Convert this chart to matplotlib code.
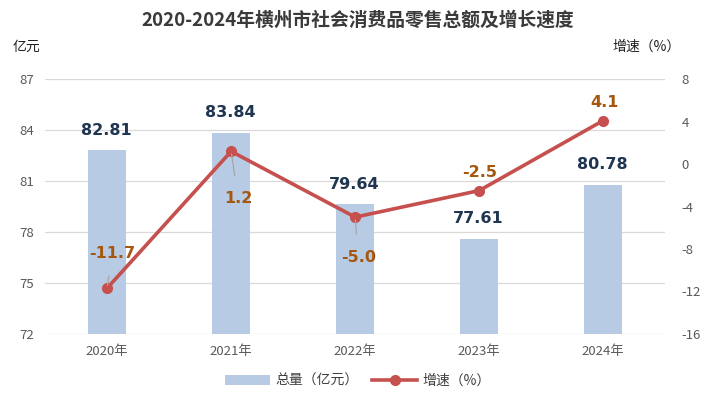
import numpy as np
import matplotlib.pyplot as plt

plt.rcParams['font.family'] = ['Noto Sans CJK SC', 'DejaVu Sans']
plt.rcParams['axes.unicode_minus'] = False

years = ['2020年', '2021年', '2022年', '2023年', '2024年']
total = [82.81, 83.84, 79.64, 77.61, 80.78]
growth = [-11.7, 1.2, -5.0, -2.5, 4.1]

# label offsets in pixels (dx, dy) for the growth labels, and whether a leader line is drawn
g_off = [(5, 35), (7, -47), (3, -40), (0, 18), (1, 18)]
g_lead = [True, True, True, False, False]

fig = plt.figure(figsize=(7.16, 3.96), dpi=100)
ax = fig.add_axes([0.063, 0.157, 0.866, 0.643])
ax2 = ax.twinx()

x = np.arange(len(years))
bars = ax.bar(x, total, width=0.31, color='#b7cce4', zorder=2, label='总量（亿元）')
ax.set_ylim(72, 87)
ax.set_yticks(np.arange(72, 88, 3))
ax.set_xlim(-0.5, 4.5)
ax.set_xticks(x)
ax.set_xticklabels(years)
ax.grid(axis='y', color='#d9d9d9', lw=0.9, zorder=0)
ax.set_axisbelow(True)

for xi, v in zip(x, total):
    ax.annotate(f'{v:.2f}', (xi, v), xytext=(-1, 20), textcoords='offset pixels',
                ha='center', va='center', fontsize=11.5, fontweight='bold', color='#1f3550',
                family='DejaVu Sans')

line, = ax2.plot(x, growth, color='#c5504e', lw=2.6, marker='o', ms=7, zorder=3, label='增速（%）')
ax2.set_ylim(-16, 8)
ax2.set_yticks(np.arange(-16, 9, 4))

for xi, v, (dx, dy), lead in zip(x, growth, g_off, g_lead):
    ap = dict(arrowstyle='-', color='#a6a6a6', lw=0.9, shrinkA=9, shrinkB=2) if lead else None
    ax2.annotate(f'{v:.1f}', (xi, v), xytext=(dx, dy), textcoords='offset pixels',
                 ha='center', va='center', fontsize=11.5, fontweight='bold', color='#a5560f',
                 family='DejaVu Sans', arrowprops=ap)

for a in (ax, ax2):
    for s in a.spines.values():
        s.set_visible(False)
    a.tick_params(length=0, labelsize=9.5, colors='#595959')
ax.tick_params(axis='x', pad=8)
ax.tick_params(axis='y', pad=8)
ax2.tick_params(axis='y', pad=12)

fig.text(0.5, 0.95, '2020-2024年横州市社会消费品零售总额及增长速度', ha='center', va='center',
         fontsize=13.5, fontweight='bold', color='#3a3a3a')
fig.text(0.018, 0.882, '亿元', ha='left', va='center', fontsize=10, color='#222222')
fig.text(0.855, 0.882, '增速（%）', ha='left', va='center', fontsize=10, color='#222222')

fig.legend(handles=[bars, line], loc='center', bbox_to_anchor=(0.5, 0.038), ncol=2,
           frameon=False, fontsize=10, handlelength=3.2, columnspacing=1.0, handletextpad=0.4,
           labelcolor='#404040')

fig.savefig('out.png', dpi=100)
